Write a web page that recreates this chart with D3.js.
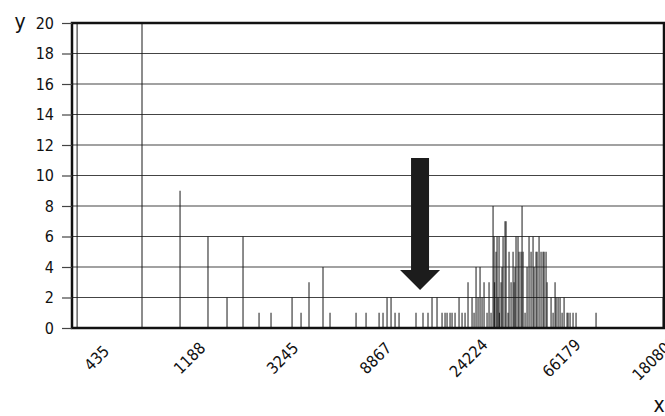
<!DOCTYPE html>
<html>
<head>
<meta charset="utf-8">
<script src="https://cdn.jsdelivr.net/npm/d3@7"></script>
<style>
  body { margin: 0; background: #fff; }
  text { font-family: "DejaVu Sans Condensed", "DejaVu Sans", sans-serif; fill: #111; }
</style>
</head>
<body>
<svg width="665" height="416"></svg>
<script>
// spike positions (x, log scale) and counts (y)
var xValues = [354, 714, 1077, 1457, 1790, 2128, 2530, 2880, 3615, 3984, 4342, 5052, 5450,
  7220, 8044, 9260, 9665, 10094, 10539, 11005, 11491, 13805, 14891, 15718, 16415, 17326,
  18290, 18894, 19306, 19943, 20378, 21051, 21983, 22706, 23453, 24224, 25296, 25849,
  26415, 26991, 27581, 28184, 28802, 29751, 30402, 31068, 31748, 32094, 32300, 32794,
  33150, 33500, 33877, 34000, 34617, 34990, 35372, 36144, 36536, 37333, 37739, 38567,
  39410, 39838, 40273, 40700, 41590, 42050, 42970, 43440, 43910, 44870, 45850, 46850,
  47880, 48920, 49450, 50540, 51090, 52200, 53340, 54510, 55100, 56310, 56920, 59430,
  60740, 62060, 62740, 64120, 65510, 66950, 68410, 70660, 71420, 72980, 75380, 77860,
  96650, 199500];
var counts = [20, 20, 9, 6, 2, 6, 1, 1, 2, 1, 3, 4, 1,
  1, 1, 1, 1, 2, 2, 1, 1, 1, 1, 1, 2, 2,
  1, 1, 1, 1, 1, 1, 2, 1, 1, 3, 2, 1,
  4, 2, 4, 2, 3, 1, 3, 1, 8, 6, 3, 5,
  6, 2, 6, 1, 3, 4, 6, 7, 7, 1, 5, 3,
  5, 3, 4, 6, 6, 5, 5, 8, 5, 1, 4, 6,
  5, 6, 4, 5, 5, 6, 5, 5, 5, 5, 3, 2,
  1, 3, 2, 2, 2, 1, 2, 1, 1, 1, 1, 1,
  1, 2];

var xTicks = [435, 1188, 3245, 8867, 24224, 66179, 180800];
var yTicks = [0, 2, 4, 6, 8, 10, 12, 14, 16, 18, 20];

// arrow: x position, top of shaft, base of head, tip (y units)
var arrowX = 14420, arrowTop = 11.15, arrowBase = 3.8, arrowTip = 2.5;

var svg = d3.select("svg");
var plotL = 72, plotR = 664, plotT = 23, plotB = 328;
var font = "'DejaVu Sans Condensed', 'DejaVu Sans', sans-serif";

var x = d3.scaleLog().domain([335, 201500]).range([plotL, plotR]);
var y = d3.scaleLinear().domain([0, 20]).range([plotB, plotT]);

var data = xValues.map(function (v, i) { return { v: v, n: counts[i] }; });

// horizontal grid
svg.append("g")
  .selectAll("line")
  .data(yTicks.slice(1))
  .enter().append("line")
    .attr("x1", plotL).attr("x2", plotR)
    .attr("y1", function (d) { return y(d); })
    .attr("y2", function (d) { return y(d); })
    .attr("stroke", "#444")
    .attr("stroke-width", 1.2);

// spikes
svg.append("g")
  .selectAll("line")
  .data(data)
  .enter().append("line")
    .attr("x1", function (d) { return x(d.v); })
    .attr("x2", function (d) { return x(d.v); })
    .attr("y1", y(0))
    .attr("y2", function (d) { return y(Math.min(d.n, 20)); })
    .attr("stroke", "#1a1a1a")
    .attr("stroke-width", 1);

// arrow
var ax = x(arrowX);
svg.append("path")
  .attr("d", "M" + (ax - 9) + "," + y(arrowTop) +
    "L" + (ax + 9) + "," + y(arrowTop) +
    "L" + (ax + 9) + "," + y(arrowBase) +
    "L" + (ax + 20) + "," + y(arrowBase) +
    "L" + ax + "," + y(arrowTip) +
    "L" + (ax - 20) + "," + y(arrowBase) +
    "L" + (ax - 9) + "," + y(arrowBase) + "Z")
  .attr("fill", "#1c1c1c");

// frame
svg.append("rect")
  .attr("x", plotL).attr("y", plotT)
  .attr("width", plotR - plotL).attr("height", plotB - plotT)
  .attr("fill", "none")
  .attr("stroke", "#111")
  .attr("stroke-width", 2.5);

// y axis
var yAxis = svg.append("g")
  .attr("transform", "translate(" + plotL + ",0)")
  .call(d3.axisLeft(y).tickValues(yTicks).tickSize(10).tickPadding(8));
yAxis.attr("font-size", null).attr("font-family", null);
yAxis.select(".domain").remove();
yAxis.selectAll("line").attr("stroke", "#444").attr("stroke-width", 1.2);
yAxis.selectAll("text").style("font-size", "16px").style("font-family", font);

// x axis, rotated labels
var xAxis = svg.append("g")
  .attr("transform", "translate(0," + plotB + ")")
  .call(d3.axisBottom(x).tickValues(xTicks).tickFormat(d3.format("d")).tickSize(0));
xAxis.attr("font-size", null).attr("font-family", null);
xAxis.select(".domain").remove();
xAxis.selectAll("text")
  .attr("y", 0).attr("dy", "0.35em")
  .attr("text-anchor", "middle")
  .attr("transform", "translate(0,30) rotate(-45)")
  .style("font-size", "16px")
  .style("font-family", font);

// axis names
svg.append("text").attr("x", 20).attr("y", 29)
  .attr("text-anchor", "middle").style("font-size", "21px").style("font-family", font).text("y");
svg.append("text").attr("x", 659).attr("y", 412)
  .attr("text-anchor", "middle").style("font-size", "21px").style("font-family", font).text("x");
</script>
</body>
</html>
